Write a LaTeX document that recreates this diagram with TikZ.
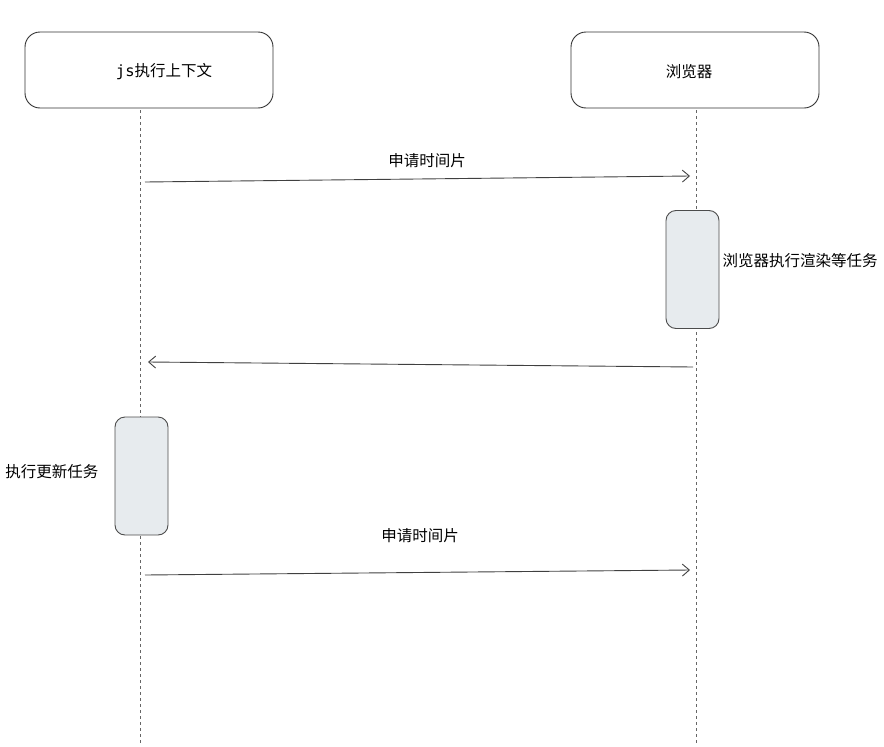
\documentclass[tikz,border=0pt]{standalone}
\usepackage{fontspec}
\setmainfont{Noto Sans CJK SC}
\newfontfamily\monofont{DejaVu Sans Mono}
\usetikzlibrary{arrows.meta}
\definecolor{busyfill}{RGB}{231,235,238}
\tikzset{
  actor/.style={draw=black!80, line width=0.9pt, rounded corners=15pt, minimum width=248pt, minimum height=76pt},
  busy/.style={draw=black!70, line width=0.9pt, fill=busyfill, rounded corners=10pt, minimum width=53pt, minimum height=118pt},
  life/.style={draw=black!60, dashed, dash pattern=on 3pt off 3pt, line width=0.7pt},
  msg/.style={draw=black!75, line width=0.9pt, -{Straight Barb[length=7pt,width=12pt]}},
  lbl/.style={font=\fontsize{15.5}{17}\selectfont}
}
\begin{document}
\begin{tikzpicture}[x=1pt,y=-1pt]
    \useasboundingbox (0,0) rectangle (884,747);
    % two sides
    \node[actor](js) at (149,70) {};
    \node[lbl](jstext) at (164,72) {{\monofont js}执行上下文};
    \node[actor](br) at (695,70) {};
    \node[lbl](brtext) at (689,72) {浏览器};
    % lifelines
    \coordinate (jstop) at (140,110);
    \coordinate (jsend) at (140,745);
    \coordinate (brtop) at (696,110);
    \coordinate (brend) at (696,745);
    \draw[life] (jstop)--(jsend);
    \draw[life] (brtop)--(brend);
    % activations
    \node[busy](brbusy) at (692.5,269.5) {};
    \node[lbl, anchor=west](brtask) at (719,261) {浏览器执行渲染等任务};
    \node[busy](jsbusy) at (141.5,476) {};
    \node[lbl, anchor=east](jstask) at (102,472) {执行更新任务};
    % messages
    \coordinate (a1) at (145,182);
    \coordinate (b1) at (690,176);
    \coordinate (b2) at (693,367);
    \coordinate (a2) at (148,362);
    \coordinate (a3) at (145,575);
    \coordinate (b3) at (690,570);
    \draw[msg] (a1)--(b1);
    \node[lbl](ask1) at (427,161) {申请时间片};
    \draw[msg] (b2)--(a2);
    \draw[msg] (a3)--(b3);
    \node[lbl](ask2) at (420,536) {申请时间片};
\end{tikzpicture}
\end{document}
